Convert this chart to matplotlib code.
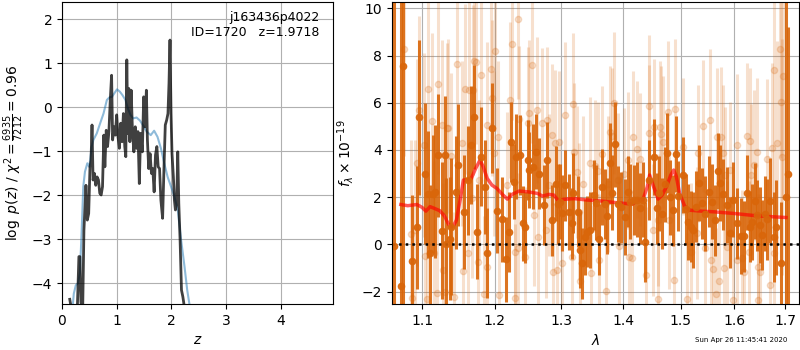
import matplotlib
matplotlib.use('Agg')
import matplotlib.pyplot as plt
from matplotlib.ticker import NullLocator

# p(z) panel
z_pz = [0.142, 0.16, 0.18, 0.26, 0.309, 0.327, 0.346, 0.377, 0.401, 0.426,
        0.438, 0.463, 0.488, 0.512, 0.531, 0.549, 0.568, 0.593, 0.617, 0.642,
        0.667, 0.691, 0.716, 0.741, 0.765, 0.784, 0.809, 0.833, 0.858, 0.883,
        0.907, 0.926, 0.951, 0.975, 1.0, 1.025, 1.049, 1.074, 1.099, 1.123,
        1.148, 1.167, 1.185, 1.204, 1.222, 1.241, 1.265, 1.29, 1.315, 1.34,
        1.364, 1.389, 1.414, 1.438, 1.469, 1.494, 1.519, 1.543, 1.562, 1.586,
        1.611, 1.636, 1.66, 1.685, 1.71, 1.735, 1.759, 1.784, 1.809, 1.84,
        1.864, 1.889, 1.914, 1.938, 1.957, 1.975, 1.994, 2.012, 2.037, 2.056,
        2.074, 2.099, 2.117, 2.136, 2.16, 2.185, 2.21, 2.228, 2.25]
logpz = [-4.36, -4.49, -5.2, -5.4, -3.39, -3.39, -4.42, -4.7, -2.79, -2.11,
         -1.77, -2.56, -2.41, -1.35, -1.20, -0.40, -1.65, -1.50, -1.77, -1.58,
         -1.65, -1.95, -1.99, -1.80, -0.63, -1.35, -0.52, -0.89, -0.55, 0.17,
         0.73, -0.74, -0.44, -0.63, -0.17, -0.67, -0.93, -0.36, -0.78, -0.14,
         -0.89, -1.12, 1.08, -0.59, 0.43, -0.78, 0.39, -0.59, -1.01, -0.44,
         -0.93, -0.55, -1.73, -0.59, -1.01, 0.24, -0.44, 0.39, -0.74, -1.39,
         -1.05, -1.50, -1.39, -1.92, -1.08, -0.89, -1.35, -1.39, -2.11, -2.52,
         -1.42, -0.40, -0.29, -0.14, 0.55, 1.53, -0.14, -1.05, -1.58, -2.11,
         -2.33, -2.11, -1.01, -2.18, -3.02, -4.15, -4.30, -4.45, -4.83]

z_prior = [0.19, 0.216, 0.253, 0.29, 0.327, 0.358, 0.389, 0.42, 0.463, 0.5,
           0.543, 0.574, 0.636, 0.698, 0.759, 0.821, 0.87, 0.914, 0.957, 1.006,
           1.056, 1.105, 1.16, 1.204, 1.253, 1.302, 1.364, 1.426, 1.488, 1.549,
           1.623, 1.685, 1.747, 1.809, 1.87, 1.932, 1.994, 2.056, 2.117, 2.179,
           2.241, 2.29, 2.333, 2.36]
logp_prior = [-4.6, -4.23, -4.04, -4.0, -3.77, -2.86, -1.80, -1.46, -1.27, -1.35,
              -0.89, -0.74, -0.59, -0.36, -0.14, 0.17, 0.23, 0.24, 0.32, 0.41,
              0.36, 0.28, 0.17, -0.02, -0.17, -0.25, -0.23, -0.30, -0.42, -0.55,
              -0.63, -0.53, -0.67, -0.93, -1.27, -1.58, -1.80, -2.03, -2.33, -3.02,
              -3.62, -4.15, -4.49, -4.8]

# spectrum panel: binned (dark) points
dark_wave = [1.0641, 1.0726, 1.0757, 1.0865, 1.0930, 1.0965, 1.1040, 1.1084, 1.1106, 1.1150,
             1.1170, 1.1216, 1.1270, 1.1305, 1.1318, 1.1372, 1.1386, 1.1452, 1.1487, 1.1562,
             1.1621, 1.1666, 1.1711, 1.1750, 1.1800, 1.1860, 1.1885, 1.1960, 1.2035, 1.2110,
             1.2170, 1.2210, 1.2245, 1.2285, 1.2310, 1.2375, 1.2410, 1.2450, 1.2485, 1.2510,
             1.2570, 1.2610, 1.2660, 1.2735, 1.2785, 1.2860, 1.2910, 1.2950, 1.2985, 1.3010,
             1.3050, 1.3120, 1.3165, 1.3190, 1.3255, 1.3297, 1.3325, 1.3378, 1.3405, 1.3460,
             1.3514, 1.3550, 1.3595, 1.3650, 1.3700, 1.3730, 1.3780, 1.3820, 1.3865, 1.3920,
             1.3970, 1.4030, 1.4080, 1.4120, 1.4190, 1.4240, 1.4290, 1.4340, 1.4365, 1.4440,
             1.4535, 1.4576, 1.4616, 1.4675, 1.4720, 1.4760, 1.4810, 1.4855, 1.4910, 1.4955,
             1.5043, 1.5106, 1.5137, 1.5186, 1.5230, 1.5280, 1.5335, 1.5385, 1.5450, 1.5510,
             1.5584, 1.5634, 1.5683, 1.5730, 1.5776, 1.5856, 1.5910, 1.5970, 1.6040, 1.6130,
             1.6180, 1.6235, 1.6300, 1.6346, 1.6390, 1.6445, 1.6497, 1.6540, 1.6590, 1.6640,
             1.6706, 1.6770, 1.6823, 1.6920, 1.7020, 1.7070]
dark_flux = [-0.07, -1.77, 7.55, -0.71, 0.72, 5.38, 3.00, 2.12, -0.38, 2.13,
             2.24, 3.78, 0.58, 3.78, 0.01, 0.25, 0.75, 2.20, 3.36, 1.38,
             2.72, 4.21, 5.38, 0.54, 3.71, 2.44, -0.35, 4.92, 1.43, 1.07,
             -0.62, 0.54, 4.35, 2.66, 3.71, 3.79, 0.89, 0.72, 3.57, 3.15,
             3.29, 3.93, 3.00, 1.67, 3.57, 1.03, 2.58, 1.71, 1.81, 1.34,
             2.51, 1.38, 0.89, 2.19, 1.38, -0.24, -0.80, 0.32, 0.54, 0.61,
             2.09, 1.77, 0.21, 2.44, 1.71, 1.20, 3.43, 2.19, 4.25, 1.71,
             1.57, 1.17, 2.23, 1.81, 1.88, 1.90, 1.53, 1.90, 0.10, 2.73,
             3.71, 1.53, 2.16, 1.31, 2.54, 3.86, 1.99, 1.45, 3.83, 2.05,
             2.94, 1.48, 0.96, 0.75, 0.61, 1.60, 2.61, 1.74, 1.31, 2.23,
             1.81, 1.03, 3.12, 2.61, 2.12, 1.67, 0.49, 1.90, 0.89, 0.35,
             0.35, 2.19, 0.75, 0.96, 1.85, 1.24, 0.82, 0.40, 1.31, 1.06,
             1.85, 0.32, 0.72, -0.80, 2.00, 3.00]
dark_err = [40, 40, 40, 2.8, 2.6, 3.3, 3.0, 2.7, 2.9, 2.5,
            2.8, 2.6, 2.9, 2.5, 2.8, 2.6, 2.9, 2.4, 2.6, 2.4,
            2.3, 2.5, 2.2, 2.0, 2.1, 2.0, 1.9, 1.9, 1.8, 1.8,
            1.8, 1.7, 1.7, 1.6, 1.8, 1.7, 1.6, 1.5, 1.7, 1.6,
            1.8, 1.6, 1.5, 1.7, 1.6, 1.5, 1.6, 1.7, 1.6, 1.6,
            1.5, 1.6, 1.5, 1.7, 1.5, 1.6, 1.5, 1.6, 1.5, 1.6,
            1.5, 1.6, 1.5, 1.6, 1.5, 1.6, 1.7, 1.6, 1.8, 1.6,
            1.5, 1.6, 1.5, 1.6, 1.5, 1.6, 1.5, 1.6, 1.7, 1.7,
            1.6, 1.5, 1.6, 1.5, 1.6, 1.7, 1.6, 1.5, 1.6, 1.5,
            1.6, 1.5, 1.6, 1.5, 1.6, 1.5, 1.6, 1.5, 1.6, 1.5,
            1.6, 1.5, 1.6, 1.6, 1.5, 1.6, 1.5, 1.6, 1.5, 1.6,
            1.5, 1.6, 1.5, 1.6, 1.6, 1.5, 1.6, 1.5, 1.6, 1.7,
            1.8, 1.9, 2.0, 2.6, 40, 6.2]

# unbinned (light) points
light_wave = [1.0770, 1.0850, 1.0870, 1.0910, 1.0930, 1.0955, 1.1031, 1.1045, 1.1060, 1.1075,
              1.1135, 1.1155, 1.1194, 1.1210, 1.1263, 1.1280, 1.1310, 1.1330, 1.1355, 1.1386,
              1.1433, 1.1475, 1.1543, 1.1555, 1.1583, 1.1625, 1.1640, 1.1683, 1.1695, 1.1705,
              1.1735, 1.1770, 1.1785, 1.1810, 1.1850, 1.1885, 1.1895, 1.1950, 1.1965, 1.1985,
              1.2000, 1.2050, 1.2060, 1.2185, 1.2225, 1.2250, 1.2295, 1.2305, 1.2335, 1.2345,
              1.2355, 1.2450, 1.2485, 1.2510, 1.2550, 1.2585, 1.2625, 1.2640, 1.2710, 1.2760,
              1.2785, 1.2810, 1.2860, 1.2875, 1.2900, 1.2935, 1.2970, 1.3010, 1.3065, 1.3165,
              1.3190, 1.3200, 1.3240, 1.3280, 1.3300, 1.3350, 1.3460, 1.3475, 1.3530, 1.3580,
              1.3600, 1.3650, 1.3714, 1.3746, 1.3780, 1.3810, 1.3855, 1.3920, 1.3935, 1.4016,
              1.4080, 1.4095, 1.4150, 1.4160, 1.4230, 1.4286, 1.4384, 1.4440, 1.4450, 1.4518,
              1.4535, 1.4594, 1.4605, 1.4625, 1.4650, 1.4685, 1.4770, 1.4785, 1.4884, 1.4895,
              1.5043, 1.5124, 1.5190, 1.5291, 1.5310, 1.5415, 1.5450, 1.5540, 1.5560, 1.5603,
              1.5650, 1.5660, 1.5714, 1.5740, 1.5780, 1.5810, 1.5820, 1.5856, 1.5910, 1.5970,
              1.6040, 1.6050, 1.6150, 1.6180, 1.6235, 1.6280, 1.6300, 1.6327, 1.6380, 1.6430,
              1.6450, 1.6460, 1.6500, 1.6640, 1.6690, 1.6740, 1.6770, 1.6780, 1.6837, 1.6900,
              1.6910, 1.6930, 1.6955]
light_flux = [8.26, 0.44, -2.29, 0.61, 3.47, 5.69, 4.23, -0.49, -2.33, 6.58,
              5.24, -0.35, -2.05, 6.80, 5.06, -1.09, -2.03, 4.94, 4.92, 3.76,
              -2.23, 7.64, 4.28, -1.12, 6.60, -0.38, 6.56, 1.97, 6.56, 7.77,
              7.74, -0.76, 2.73, 7.18, -2.08, 5.06, -0.95, 7.42, 6.19, 3.86,
              8.19, 4.56, -2.15, 2.51, 6.12, 8.49, -0.31, -2.25, -0.17, 9.55,
              5.30, -0.55, 5.16, 5.55, 7.60, 1.24, 5.69, 0.30, 5.13, 0.61,
              5.27, 2.51, 4.65, -1.16, 4.31, -1.09, 4.35, -0.80, 5.47, -0.55,
              5.95, 3.93, 3.08, 1.38, -1.54, 2.56, 3.43, -1.23, 3.32, 3.12,
              -0.66, 3.83, -1.98, 2.56, 4.77, 4.59, 6.00, 2.75, -0.07, 3.00,
              3.57, -0.55, -0.59, 4.53, 4.04, 3.60, -1.30, 5.86, 4.70, 0.61,
              4.96, 1.03, -2.33, 4.99, 4.67, 4.35, 5.62, 1.03, -1.51, 5.72,
              4.14, -2.33, -0.31, 0.47, 3.86, 5.01, -0.17, 5.27, -0.66, -1.02,
              -2.09, 4.56, -1.54, 4.53, 3.86, -0.99, 2.94, -0.10, 3.15, -2.36,
              -0.66, 4.21, -0.59, -1.16, 4.60, -0.31, 4.39, 2.94, 3.36, 3.93,
              -2.36, -0.95, -1.16, 3.60, -1.72, 4.10, -0.38, 7.39, 4.31, 8.26,
              6.05, 3.69, 7.13]
light_err = [4.5, 4.0, 4.2, 3.8, 4.4, 4.0, 3.9, 3.6, 4.1, 3.8,
             3.7, 3.9, 3.5, 3.8, 3.6, 3.7, 3.4, 3.6, 3.8, 3.5,
             3.6, 3.7, 3.5, 3.4, 3.6, 3.5, 3.7, 3.4, 3.6, 3.8,
             3.5, 3.3, 3.4, 3.6, 3.3, 3.5, 3.2, 3.4, 3.3, 3.5,
             3.4, 3.2, 3.3, 3.1, 3.3, 3.2, 3.0, 3.1, 3.2, 3.4,
             3.1, 3.0, 3.2, 3.1, 3.3, 3.0, 3.1, 3.0, 3.2, 2.9,
             3.1, 3.0, 3.0, 2.9, 3.1, 3.0, 3.0, 2.9, 3.1, 2.8,
             3.0, 2.9, 2.8, 2.9, 2.8, 2.9, 2.8, 2.9, 2.8, 2.9,
             2.8, 2.9, 2.8, 2.9, 2.8, 2.9, 3.0, 2.8, 2.9, 2.8,
             2.9, 2.8, 2.9, 2.8, 2.9, 2.8, 2.9, 3.0, 2.9, 2.8,
             2.9, 2.8, 2.9, 2.8, 2.9, 2.8, 3.0, 2.9, 2.8, 3.0,
             2.9, 2.8, 2.9, 2.8, 2.9, 2.8, 2.9, 3.0, 2.8, 2.9,
             2.8, 2.9, 2.8, 3.0, 2.9, 2.8, 2.9, 2.8, 2.9, 3.0,
             2.9, 3.0, 2.9, 3.0, 3.1, 3.0, 3.1, 3.0, 3.2, 3.1,
             3.2, 3.1, 3.3, 3.4, 3.5, 3.6, 3.8, 4.0, 4.3, 4.6,
             4.8, 5.0, 5.2]

# best-fit model
model_wave = [1.0724, 1.0813, 1.0880, 1.0933, 1.1000, 1.1051, 1.1106, 1.1162, 1.1236, 1.1301,
              1.1361, 1.1417, 1.1463, 1.1514, 1.1560, 1.1616, 1.1671, 1.1731, 1.1792, 1.1838,
              1.1894, 1.1963, 1.2035, 1.2110, 1.2185, 1.2260, 1.2360, 1.2485, 1.2635, 1.2710,
              1.2810, 1.2885, 1.2960, 1.3038, 1.3200, 1.3416, 1.3632, 1.3849, 1.4012, 1.4159,
              1.4247, 1.4335, 1.4412, 1.4453, 1.4512, 1.4600, 1.4671, 1.4747, 1.4824, 1.4876,
              1.4924, 1.4982, 1.5073, 1.5164, 1.5376, 1.5618, 1.6000, 1.6441, 1.6770, 1.7020]
model_flux = [1.69, 1.64, 1.67, 1.69, 1.57, 1.41, 1.60, 1.53, 1.43, 1.20,
              0.82, 0.75, 1.03, 1.88, 2.73, 2.73, 2.80, 3.22, 3.57, 3.29,
              2.80, 2.51, 2.37, 2.13, 1.92, 2.13, 2.26, 2.23, 2.16, 2.05,
              2.12, 2.09, 1.82, 1.91, 1.94, 1.88, 1.84, 1.78, 1.74, 1.71,
              1.88, 1.88, 2.44, 2.94, 2.51, 1.92, 2.09, 2.44, 2.94, 3.15,
              2.87, 2.16, 1.62, 1.45, 1.41, 1.38, 1.31, 1.21, 1.17, 1.14]

wave_ticks = [1.1, 1.2, 1.3, 1.4, 1.5, 1.6, 1.7]

fig = plt.figure(figsize=(8, 3.5), dpi=100)
ax1 = fig.add_axes([0.0775, 0.131, 0.339, 0.864])
ax2 = fig.add_axes([0.4896, 0.131, 0.5095, 0.864])

ax1.plot(z_prior, logp_prior, color='tab:blue', alpha=0.5, lw=1.5)
ax1.plot(z_pz, logpz, color='k', alpha=0.75, lw=2)
ax1.set_xlim(0, 4.96)
ax1.set_ylim(-4.47, 2.40)
ax1.set_xticks([0, 1, 2, 3, 4])
ax1.set_yticks([-4, -3, -2, -1, 0, 1, 2])
ax1.grid()
ax1.set_xlabel('$z$')
ax1.set_ylabel(r'$\log\ p(z)$ / $\chi^2=\frac{6935}{7212}=0.96$')
ax1.text(0.95, 0.97, 'j163436p4022\nID=1720   z=1.9718', ha='right', va='top',
         transform=ax1.transAxes, fontsize=9)

col = '#d9660a'
ax2.errorbar(light_wave, light_flux, light_err, marker='o', ms=4.5, ls='none',
             color=col, alpha=0.2, elinewidth=2.2, capsize=0)
ax2.errorbar(dark_wave, dark_flux, dark_err, marker='o', ms=4.5, ls='none',
             color=col, alpha=0.9, elinewidth=2.2, capsize=0)
ax2.plot(model_wave, model_flux, color='r', alpha=0.65, lw=2.5)
ax2.axhline(0, color='k', ls=':', lw=1.8)

ax2.set_xscale('log')
ax2.set_xlim(1.0607, 1.7294)
ax2.set_ylim(-2.53, 10.28)
ax2.set_xticks(wave_ticks)
ax2.set_xticklabels([str(t) for t in wave_ticks])
ax2.xaxis.set_minor_locator(NullLocator())
ax2.set_yticks([-2, 0, 2, 4, 6, 8, 10])
ax2.grid()
ax2.set_xlabel(r'$\lambda$')
ax2.set_ylabel(r'$f_\lambda\times10^{-19}$')

fig.text(0.984, 0.029, 'Sun Apr 26 11:45:41 2020', ha='right', va='center', fontsize=5)

fig.savefig('out.png', dpi=100)
